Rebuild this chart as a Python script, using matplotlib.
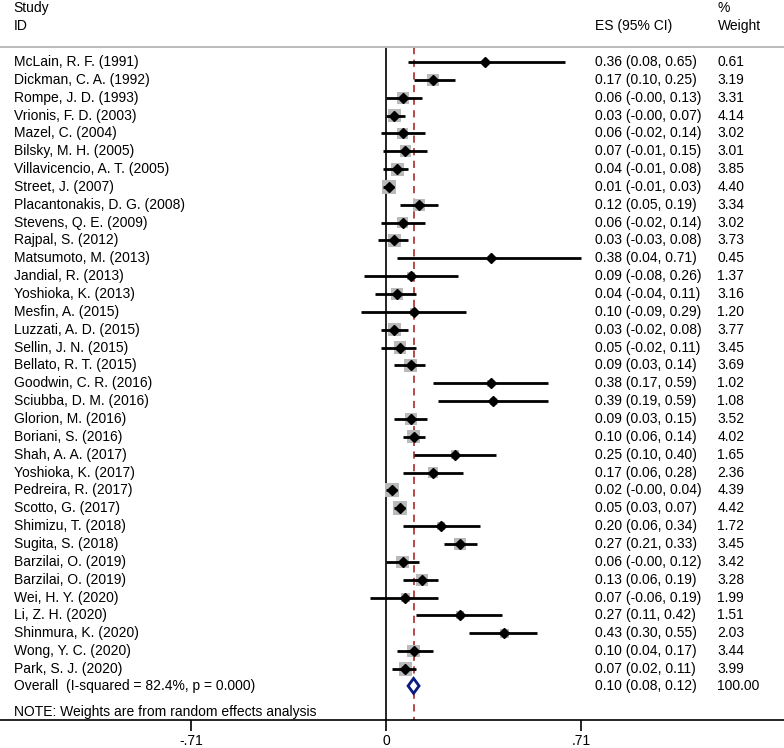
import numpy as np
import matplotlib
matplotlib.use('Agg')
import matplotlib.pyplot as plt
from matplotlib.patches import Polygon, Rectangle

plt.rcParams['font.family'] = ['Liberation Sans', 'DejaVu Sans']

# --- data ---
studies = ['McLain, R. F. (1991)', 'Dickman, C. A. (1992)', 'Rompe, J. D. (1993)',
           'Vrionis, F. D. (2003)', 'Mazel, C. (2004)', 'Bilsky, M. H. (2005)',
           'Villavicencio, A. T. (2005)', 'Street, J. (2007)', 'Placantonakis, D. G. (2008)',
           'Stevens, Q. E. (2009)', 'Rajpal, S. (2012)', 'Matsumoto, M. (2013)',
           'Jandial, R. (2013)', 'Yoshioka, K. (2013)', 'Mesfin, A. (2015)',
           'Luzzati, A. D. (2015)', 'Sellin, J. N. (2015)', 'Bellato, R. T. (2015)',
           'Goodwin, C. R. (2016)', 'Sciubba, D. M. (2016)', 'Glorion, M. (2016)',
           'Boriani, S. (2016)', 'Shah, A. A. (2017)', 'Yoshioka, K. (2017)',
           'Pedreira, R. (2017)', 'Scotto, G. (2017)', 'Shimizu, T. (2018)',
           'Sugita, S. (2018)', 'Barzilai, O. (2019)', 'Barzilai, O. (2019)',
           'Wei, H. Y. (2020)', 'Li, Z. H. (2020)', 'Shinmura, K. (2020)',
           'Wong, Y. C. (2020)', 'Park, S. J. (2020)']
es = [0.36, 0.17, 0.06, 0.03, 0.06, 0.07, 0.04, 0.01, 0.12, 0.06, 0.03, 0.38,
      0.09, 0.04, 0.10, 0.03, 0.05, 0.09, 0.38, 0.39, 0.09, 0.10, 0.25, 0.17,
      0.02, 0.05, 0.20, 0.27, 0.06, 0.13, 0.07, 0.27, 0.43, 0.10, 0.07]
lo = [0.08, 0.10, -0.0, -0.0, -0.02, -0.01, -0.01, -0.01, 0.05, -0.02, -0.03, 0.04,
      -0.08, -0.04, -0.09, -0.02, -0.02, 0.03, 0.17, 0.19, 0.03, 0.06, 0.10, 0.06,
      -0.0, 0.03, 0.06, 0.21, -0.0, 0.06, -0.06, 0.11, 0.30, 0.04, 0.02]
hi = [0.65, 0.25, 0.13, 0.07, 0.14, 0.15, 0.08, 0.03, 0.19, 0.14, 0.08, 0.71,
      0.26, 0.11, 0.29, 0.08, 0.11, 0.14, 0.59, 0.59, 0.15, 0.14, 0.40, 0.28,
      0.04, 0.07, 0.34, 0.33, 0.12, 0.19, 0.19, 0.42, 0.55, 0.17, 0.11]
weight = [0.61, 3.19, 3.31, 4.14, 3.02, 3.01, 3.85, 4.40, 3.34, 3.02, 3.73, 0.45,
          1.37, 3.16, 1.20, 3.77, 3.45, 3.69, 1.02, 1.08, 3.52, 4.02, 1.65, 2.36,
          4.39, 4.42, 1.72, 3.45, 3.42, 3.28, 1.99, 1.51, 2.03, 3.44, 3.99]
overall_es, overall_lo, overall_hi = 0.10, 0.08, 0.12
overall_w = 100.00
overall_label = 'Overall  (I-squared = 82.4%, p = 0.000)'
ticks = [-0.71, 0, 0.71]
tick_labels = ['-.71', '0', '.71']

# --- figure ---
fig = plt.figure(figsize=(7.84, 7.48), dpi=100)
ax = fig.add_axes([0, 28 / 748, 1, 1 - 28 / 748])
y_bot = 36.86
ax.set_xlim(-1.404, 1.447)
ax.set_ylim(y_bot, -3.47)

n = len(studies)
rows = np.arange(n)
y_overall = n - 0.05
y_note = n + 1.41
y_top = -0.81

x_lab, x_es, x_w = -1.354, 0.76, 1.205
fs = 10

# vertical reference lines
ax.plot([0, 0], [y_top, y_bot], color='black', lw=1.2, zorder=1)
ax.plot([overall_es, overall_es], [y_top, y_bot], color='#b03a3a', lw=1.3,
        ls=(0, (4, 3)), zorder=2)
ax.axhline(y_top, color='#bbbbbb', lw=1.4)

# study rows
for i in range(n):
    y = rows[i]
    side = 0.024 * np.sqrt(weight[i])  # box side in x units (area ~ weight)
    h = side * 275 / 17.85
    ax.add_patch(Rectangle((es[i] - side / 2, y - h / 2), side, h,
                           facecolor='#bababa', edgecolor='none', zorder=3))
    ax.plot([lo[i], hi[i]], [y, y], color='black', lw=2, zorder=4, solid_capstyle='butt')
    ax.plot(es[i], y, marker='D', color='black', ms=5.5, zorder=5)
    ax.text(x_lab, y, studies[i], fontsize=fs, va='center', ha='left')
    ax.text(x_es, y, f'{es[i]:.2f} ({lo[i]:.2f}, {hi[i]:.2f})', fontsize=fs,
            va='center', ha='left')
    ax.text(x_w, y, f'{weight[i]:.2f}', fontsize=fs, va='center', ha='left')

# overall diamond
ax.add_patch(Polygon([[overall_lo, y_overall], [overall_es, y_overall - 0.42],
                      [overall_hi, y_overall], [overall_es, y_overall + 0.42]],
                     closed=True, facecolor='white', edgecolor='#0a1a80', lw=2, zorder=6))
ax.text(x_lab, y_overall, overall_label, fontsize=fs, va='center', ha='left')
ax.text(x_es, y_overall, f'{overall_es:.2f} ({overall_lo:.2f}, {overall_hi:.2f})',
        fontsize=fs, va='center', ha='left')
ax.text(x_w, y_overall, f'{overall_w:.2f}', fontsize=fs, va='center', ha='left')
ax.text(x_lab, y_note, 'NOTE: Weights are from random effects analysis', fontsize=fs,
        va='center', ha='left')

# headers
ax.text(x_lab, -3.03, 'Study', fontsize=fs, va='center', ha='left')
ax.text(x_lab, -2.02, 'ID', fontsize=fs, va='center', ha='left')
ax.text(x_es, -2.02, 'ES (95% CI)', fontsize=fs, va='center', ha='left')
ax.text(x_w, -3.03, '%', fontsize=fs, va='center', ha='left')
ax.text(x_w, -2.02, 'Weight', fontsize=fs, va='center', ha='left')

# axis styling
for s in ['top', 'left', 'right']:
    ax.spines[s].set_visible(False)
ax.spines['bottom'].set_linewidth(1.2)
ax.set_yticks([])
ax.set_xticks(ticks)
ax.set_xticklabels(tick_labels, fontsize=fs)
ax.tick_params(axis='x', length=8, width=1.2, pad=2)

fig.savefig('out.png', dpi=100)
